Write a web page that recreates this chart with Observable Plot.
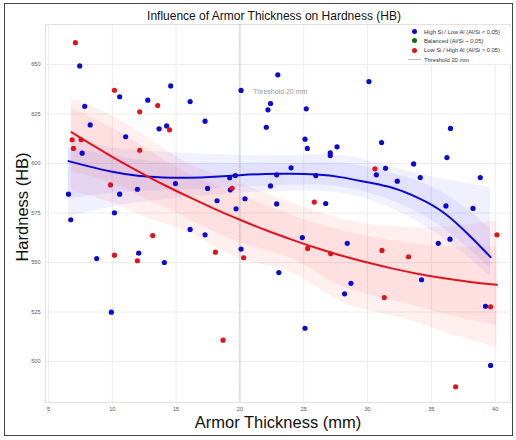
<!DOCTYPE html>
<html><head><meta charset="utf-8">
<script src="https://cdn.jsdelivr.net/npm/d3@7"></script>
<script src="https://cdn.jsdelivr.net/npm/@observablehq/plot@0.6"></script>
<style>
body{margin:0;background:#fff;font-family:"Liberation Sans",Arial,sans-serif}
#wrap{position:relative;width:516px;height:440px;overflow:hidden;background:#fff}
#border{position:absolute;left:4px;top:3px;width:509px;height:433px;border:1.5px solid #444;box-sizing:border-box;pointer-events:none}
.lbl{position:absolute;color:#111;white-space:nowrap}
#title{left:0;width:548px;top:9px;text-align:center;font-size:12px}
#xlab{left:0;width:556px;top:413px;text-align:center;font-size:16.5px}
#ylab{left:22px;top:207px;font-size:16.5px;transform:translate(-50%,-50%) rotate(-90deg)}
#legend{position:absolute;left:404px;top:27px;width:112px;font-size:5.8px;color:#333;background:rgba(255,255,255,0.85)}
#legend .row{height:9.3px;display:flex;align-items:center}
#legend .sw{width:20px;display:flex;justify-content:center;align-items:center}
#legend .dot{width:5px;height:5px;border-radius:50%}
#legend .ln{width:13px;height:0;border-top:1px solid #bbb}
</style></head><body><div id="wrap"></div>
<script>
// Scatter data
const blueThickness = [7.45,10.58,14.58,12.78,16.10,7.84,8.27,13.67,14.26,17.27,11.05,7.64,20.09,22.97,6.57,10.58,11.97,14.95,17.47,19.20,19.64,19.25,18.21,20.40,19.70,22.88,22.40,22.88,22.20,22.40,22.07,30.11,25.20,25.10,25.28,27.08,27.08,27.61,31.10,36.50,36.22,33.61,31.41,30.69,34.13,32.33,38.83,24.01,25.95,26.72,36.14,38.26,6.75,10.17,16.10,17.27,8.78,12.07,14.08,20.09,23.05,9.93,24.89,28.41,35.54,36.46,34.23,28.70,28.20,39.24,25.10,39.64];
const blueHardness = [649.3,633.7,639.2,632.0,631.3,628.9,619.5,617.5,619.0,621.4,613.5,605.2,636.9,644.8,584.5,584.5,587.0,589.9,587.4,592.8,593.9,586.7,581.2,582.2,577.1,594.3,588.7,579.6,627.1,630.3,618.3,641.4,627.6,612.3,607.6,605.4,604.0,608.4,610.6,617.7,603.0,599.8,597.6,594.3,592.9,591.1,592.9,597.8,593.9,579.8,578.6,577.3,571.6,575.1,566.7,564.0,552.0,554.7,550.0,556.8,544.9,524.9,562.6,559.7,559.7,561.8,541.3,539.5,534.2,527.9,516.8,498.0];
const redThickness = [7.11,10.17,13.56,12.15,14.48,6.86,7.56,6.96,12.15,9.86,19.39,30.58,25.83,13.17,10.17,11.97,18.08,20.29,40.14,25.31,27.11,31.13,33.21,31.31,39.64,18.68,36.90];
const redHardness = [661.0,637.0,629.3,626.1,617.0,612.0,612.0,607.6,606.7,589.2,587.5,597.3,580.5,563.6,553.7,550.9,555.2,552.4,564.0,557.1,554.4,556.1,552.9,532.3,527.6,510.8,487.2];

// Trend lines
const blueFitX = [6.57,8,10,12,14,16,18,20,22,24,26,28,30,32,34,36,38,39.64];
const blueFitY = [601.2,598.8,595.8,593.8,592.9,592.8,593.3,594.1,594.7,594.8,594.4,593.0,590.5,587.6,582.5,575.0,563.5,552.7];
const redFitX = [6.8,8,10,12,14,16,18,20,22,24,26,28,30,32,34,36,38,40.14];
const redFitY = [615.8,611.0,603.4,596.2,589.4,583.1,577.1,571.6,566.4,561.7,557.3,553.4,550.0,546.9,544.2,542.0,540.2,538.8];

// Confidence bands
const blueBandX = [6.57,10,13,16,20,24,28,32,36,39.64];
const blueOuterLo = [573,578,581,583,585,586,585,577,562,543];
const blueOuterHi = [612,608,606,605,604,604,604,598,592,588];
const blueInnerLo = [582,585,586,587,588,589,588,581,567,547];
const blueInnerHi = [608,604,601,600,600,600,600,595,585,567];
const redBandX = [6.8,10,13,16,20,24,28,32,36,40.14];
const redOuterLo = [586,580,572,565,552,545,530,523,515,507];
const redOuterHi = [633,624,612,600,590,580,572,568,568,571];
const redInnerLo = [596,590,581,572,560,552,538,531,524,518];
const redInnerHi = [628,618,606,595,584,574,566,561,558,558];

const xTicks = [5,10,15,20,25,30,35,40];
const yTicks = [500,525,550,575,600,625,650];
const thresholdX = [20];
const legendItems = [
  {label:"High Si / Low Al (Al/Si < 0.05)", color:"#0a0ad0", type:"dot"},
  {label:"Balanced (Al/Si ~ 0.05)", color:"#0a6b0a", type:"dot"},
  {label:"Low Si / High Al (Al/Si > 0.05)", color:"#e0141e", type:"dot"},
  {label:"Threshold 20 mm", color:"#bbb", type:"line"}
];

const BLUE = "#0a0ad0", RED = "#e0141e";
const pts = (xs, ys) => xs.map((x,i)=>({x, y:ys[i]}));
const band = (xs, lo, hi) => xs.map((x,i)=>({x, lo:lo[i], hi:hi[i]}));

const plot = Plot.plot({
  width: 516, height: 440,
  marginLeft: 45, marginRight: 6, marginTop: 24, marginBottom: 38,
  style: {fontFamily: "'Liberation Sans', Arial, sans-serif", background: "transparent"},
  x: {domain: [4.77, 41.2], ticks: xTicks, label: null},
  y: {domain: [479.3, 670.2], ticks: yTicks, label: null},
  marks: [
    Plot.gridX(xTicks, {stroke: "#ececec", strokeOpacity: 1}),
    Plot.gridY(yTicks, {stroke: "#ececec", strokeOpacity: 1}),
    Plot.frame({stroke: "#e2e2e2"}),
    Plot.axisX(xTicks, {tickSize: 0, tickPadding: 5, fontSize: 5.5, fill: "#555", label: null}),
    Plot.axisY(yTicks, {tickSize: 0, tickPadding: 5, fontSize: 5.5, fill: "#555", label: null}),
    Plot.areaY(band(blueBandX, blueOuterLo, blueOuterHi), {x:"x", y1:"lo", y2:"hi", fill:"#3a3aff", fillOpacity:0.08, curve:"natural"}),
    Plot.areaY(band(blueBandX, blueInnerLo, blueInnerHi), {x:"x", y1:"lo", y2:"hi", fill:"#3a3aff", fillOpacity:0.08, curve:"natural"}),
    Plot.areaY(band(redBandX, redOuterLo, redOuterHi), {x:"x", y1:"lo", y2:"hi", fill:"#ff3030", fillOpacity:0.08, curve:"natural"}),
    Plot.areaY(band(redBandX, redInnerLo, redInnerHi), {x:"x", y1:"lo", y2:"hi", fill:"#ff3030", fillOpacity:0.08, curve:"natural"}),
    Plot.ruleX(thresholdX, {stroke: "#999", strokeWidth: 0.8, strokeDasharray: "1.5,1", strokeOpacity: 0.8}),
    Plot.text(thresholdX, {x: d=>d, frameAnchor: "top", dy: 65, dx: 13, textAnchor: "start", text: ()=>"Threshold 20 mm", fill: "#999", fontSize: 7}),
    Plot.line(pts(blueFitX, blueFitY), {x:"x", y:"y", stroke: BLUE, strokeWidth: 2, curve: "natural"}),
    Plot.line(pts(redFitX, redFitY), {x:"x", y:"y", stroke: RED, strokeWidth: 2, curve: "natural"}),
    Plot.dot(pts(blueThickness, blueHardness), {x:"x", y:"y", r: 2.6, fill: BLUE, stroke: "none"}),
    Plot.dot(pts(redThickness, redHardness), {x:"x", y:"y", r: 2.6, fill: RED, stroke: "none"})
  ]
});

const wrap = document.getElementById("wrap");
wrap.appendChild(plot);
plot.style.position = "absolute"; plot.style.left = "0"; plot.style.top = "0";

function addLabel(id, text){ const d=document.createElement("div"); d.id=id; d.className="lbl"; d.textContent=text; wrap.appendChild(d); }
addLabel("title", "Influence of Armor Thickness on Hardness (HB)");
addLabel("xlab", "Armor Thickness (mm)");
addLabel("ylab", "Hardness (HB)");

const lg = document.createElement("div"); lg.id = "legend";
legendItems.forEach(it=>{
  const r=document.createElement("div"); r.className="row";
  const sw=document.createElement("div"); sw.className="sw";
  const m=document.createElement("div");
  if(it.type==="dot"){ m.className="dot"; m.style.background=it.color; } else { m.className="ln"; m.style.borderTopColor=it.color; }
  sw.appendChild(m); r.appendChild(sw);
  const t=document.createElement("span"); t.textContent=it.label; r.appendChild(t);
  lg.appendChild(r);
});
wrap.appendChild(lg);
const b=document.createElement("div"); b.id="border"; wrap.appendChild(b);
</script>
</body></html>
